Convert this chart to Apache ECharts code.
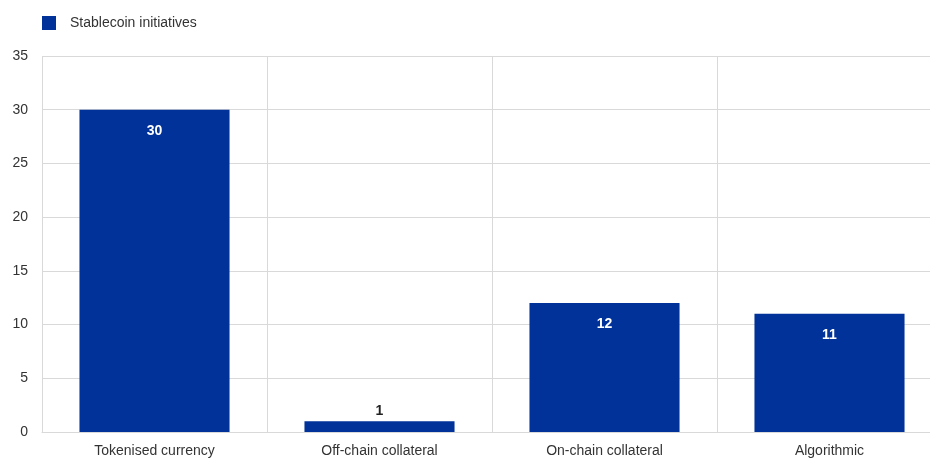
<!DOCTYPE html>
<html>
<head>
<meta charset="utf-8">
<script src="https://cdn.jsdelivr.net/npm/echarts@6/dist/echarts.min.js"></script>
<style>
  html, body { margin: 0; padding: 0; background: #fff; overflow: hidden; }
  #wrap { width: 930px; height: 459px; overflow: hidden; }
  #chart { width: 942px; height: 459px; }
</style>
</head>
<body>
<div id="wrap"><div id="chart"></div></div>
<script>
// Stablecoin initiatives by stabilisation mechanism
const categories = ['Tokenised currency', 'Off-chain collateral', 'On-chain collateral', 'Algorithmic'];
const initiatives = [30, 1, 12, 11];
const seriesName = 'Stablecoin initiatives';

const chart = echarts.init(document.getElementById('chart'), null, { renderer: 'canvas' });

const FONT = '"Liberation Sans", Arial, sans-serif';

chart.setOption({
  animation: false,
  textStyle: { fontFamily: FONT },
  legend: {
    data: [seriesName],
    left: 37,
    top: 11,
    icon: 'rect',
    itemWidth: 14,
    itemHeight: 14,
    itemGap: 10,
    textStyle: { fontFamily: FONT, fontSize: 14, color: '#333', padding: [0, 0, 0, 9] }
  },
  grid: { left: 42, top: 56, right: 0, bottom: 27, containLabel: false },
  xAxis: {
    type: 'category',
    data: categories,
    axisLine: { show: true, lineStyle: { color: '#d9d9d9', width: 1 } },
    axisTick: { show: false },
    splitLine: { show: true, lineStyle: { color: '#d9d9d9', width: 1 } },
    axisLabel: { fontFamily: FONT, fontSize: 14, color: '#333', margin: 12 }
  },
  yAxis: {
    type: 'value',
    min: 0,
    max: 35,
    interval: 5,
    axisLine: { show: false },
    axisTick: { show: false },
    splitLine: { show: true, lineStyle: { color: '#d9d9d9', width: 1 } },
    axisLabel: { fontFamily: FONT, fontSize: 14, color: '#333', margin: 14 }
  },
  series: [{
    name: seriesName,
    type: 'bar',
    data: initiatives.map(v => ({
      value: v,
      label: v < 3
        ? { position: 'top', color: '#222', distance: 3 }
        : { position: 'insideTop', color: '#fff', distance: 14 }
    })),
    barCategoryGap: '33.3%',
    itemStyle: { color: '#003299' },
    label: {
      show: true,
      fontFamily: FONT,
      fontSize: 14,
      fontWeight: 'bold'
    }
  }]
});
</script>
</body>
</html>
